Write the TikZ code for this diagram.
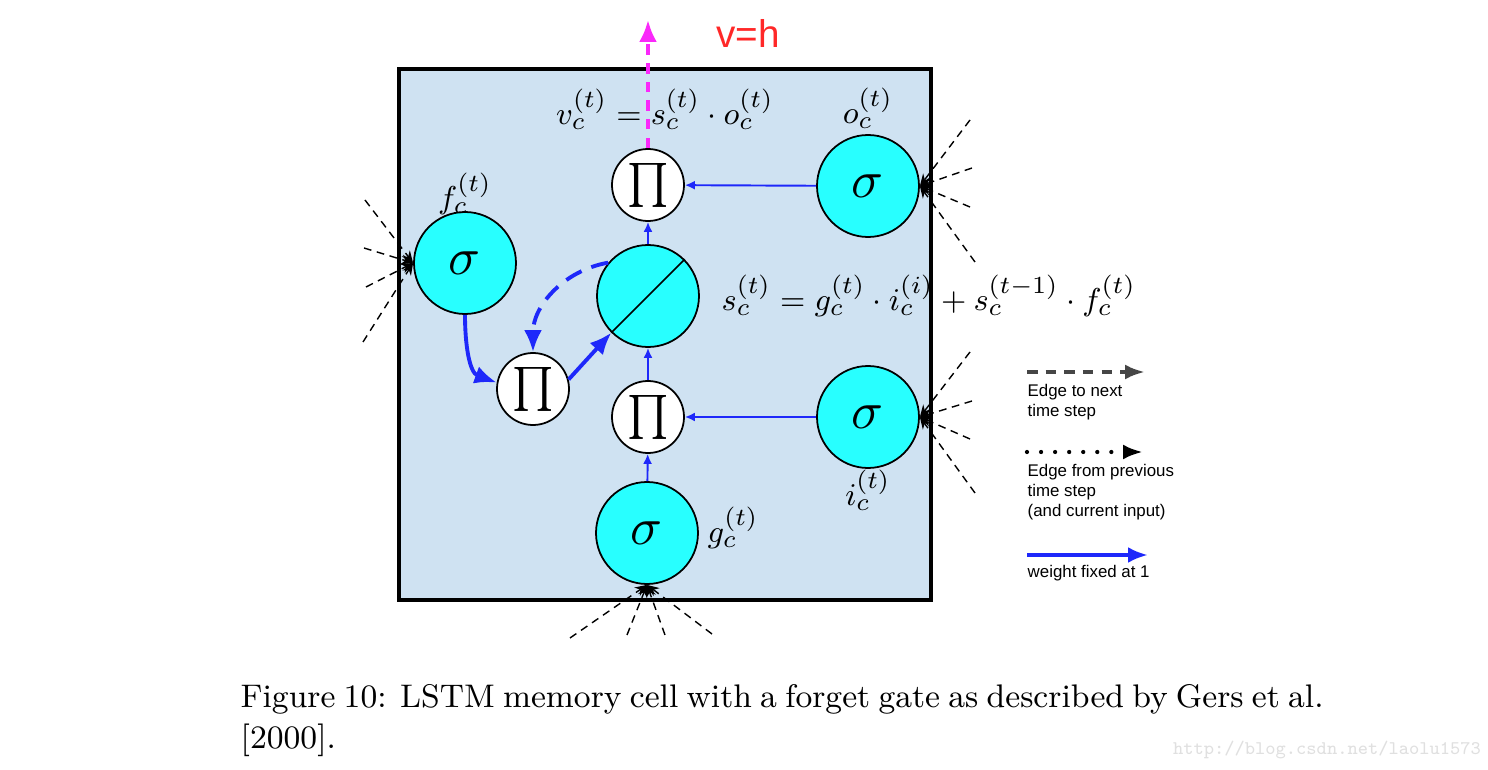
\documentclass[tikz,border=0pt]{standalone}
\usepackage{amsmath}
\usepackage{amssymb}
\usepackage{fontspec}
\setsansfont{Liberation Sans}
\usetikzlibrary{arrows.meta, positioning}
\newcommand*{\Sym}[2][1.5]{\scalebox{#1}{$#2$}}
\definecolor{cellblue}{RGB}{207,226,242}
\definecolor{gatecyan}{RGB}{40,255,255}
\definecolor{wblue}{RGB}{30,40,250}
\definecolor{vmagenta}{RGB}{250,40,250}
\definecolor{vred}{RGB}{255,40,40}
\definecolor{legendgray}{RGB}{70,70,70}
\tikzset{
  gate/.style={circle, draw, line width=0.5pt, fill=gatecyan, minimum size=1.02cm, inner sep=0pt},
  mult/.style={circle, draw, line width=0.5pt, fill=white, minimum size=0.72cm, inner sep=0pt},
  fan/.style={dash pattern=on 2.2pt off 1.6pt, line width=0.4pt, -{Stealth[length=1.2mm,width=1mm]}},
  wline/.style={wblue, line width=0.55pt, -{Latex[length=1mm,width=0.9mm]}},
  wthick/.style={wblue, line width=1.1pt, -{Latex[length=2.2mm,width=1.8mm]}},
  lbl/.style={font=\fontsize{9.5}{11}\selectfont, inner sep=0pt},
  legendtxt/.style={font=\sffamily\fontsize{4.8}{5.7}\selectfont, align=left, anchor=north west, inner sep=0pt},
}
\begin{document}
\begin{tikzpicture}
  \useasboundingbox (0,0) rectangle (14.88,7.70);
  \draw[line width=1pt, fill=cellblue] (3.99,1.70) rectangle (9.31,7.01);

  \node[mult] (outPi) at (6.48,5.85) {\Sym[1.25]{\prod}};
  \node[gate] (ogate) at (8.68,5.84) {\Sym{\sigma}};
  \node[gate] (fgate) at (4.65,5.07) {\Sym{\sigma}};
  \node[gate] (state) at (6.48,4.74) {};
  \draw[line width=0.5pt] (state.225) -- (state.45);
  \node[mult] (forget) at (5.33,3.81) {\Sym[1.25]{\prod}};
  \node[mult] (inPi) at (6.48,3.53) {\Sym[1.25]{\prod}};
  \node[gate] (igate) at (8.68,3.53) {\Sym{\sigma}};
  \node[gate] (ggate) at (6.47,2.37) {\Sym{\sigma}};

  \node[lbl] (flbl) at (4.65,5.76) {$f_c^{(t)}$};
  \node[lbl] (olbl) at (8.68,6.62) {$o_c^{(t)}$};
  \node[lbl] (ilbl) at (8.68,2.80) {$i_c^{(t)}$};
  \node[lbl, anchor=west] (glbl) at (7.07,2.42) {$g_c^{(t)}$};
  \node[lbl] (veq) at (6.65,6.61) {$v_c^{(t)} = s_c^{(t)} \cdot o_c^{(t)}$};
  \node[lbl, anchor=west] (seq) at (7.21,4.74) {$s_c^{(t)} = g_c^{(t)} \cdot i_c^{(i)} + s_c^{(t-1)} \cdot f_c^{(t)}$};

  \foreach \n/\x/\y in {1/3.65/5.70, 2/3.64/5.22, 3/3.66/4.83, 4/3.63/4.28}{
    \coordinate (fin\n) at (\x,\y);
    \draw[fan] (fin\n) -- (fgate.west);
  }
  \foreach \n/\x/\y in {1/9.70/6.50, 2/9.72/6.02, 3/9.70/5.63, 4/9.75/5.08}{
    \coordinate (oin\n) at (\x,\y);
    \draw[fan] (oin\n) -- (ogate.east);
  }
  \foreach \n/\x/\y in {1/9.70/4.18, 2/9.72/3.69, 3/9.70/3.31, 4/9.75/2.77}{
    \coordinate (iin\n) at (\x,\y);
    \draw[fan] (iin\n) -- (igate.east);
  }
  \foreach \n/\x/\y in {1/5.70/1.32, 2/6.27/1.35, 3/6.65/1.35, 4/7.12/1.36}{
    \coordinate (gin\n) at (\x,\y);
    \draw[fan] (gin\n) -- (ggate.south);
  }

  \draw[wline] (ggate) -- (inPi);
  \draw[wline] (inPi) -- (state);
  \draw[wline] (state) -- (outPi);
  \draw[wline] (igate) -- (inPi);
  \draw[wline] (ogate) -- (outPi);
  \draw[wthick] (fgate.south) to[out=-90, in=160] (forget.170);
  \draw[wthick] (forget.15) -- (state.225);
  \draw[wthick, dash pattern=on 5pt off 3pt] (state.140) to[out=190, in=90] (forget.north);

  \coordinate (vtip) at (6.48,7.50);
  \draw[vmagenta, line width=1.1pt, dash pattern=on 3pt off 2.3pt, -{Latex[length=2.2mm,width=1.8mm]}] (outPi.north) -- (vtip);
  \node[text=vred, font=\sffamily\fontsize{11}{13}\selectfont] (vh) at (7.48,7.37) {v=h};

  \coordinate (d1) at (10.27,3.98);
  \coordinate (d2) at (11.45,3.98);
  \draw[legendgray, line width=1.1pt, dash pattern=on 3pt off 2.3pt, -{Latex[length=2mm,width=1.5mm]}] (d1) -- (d2);
  \node[legendtxt] (dtxt) at (10.27,3.86) {Edge to next\\time step};
  \coordinate (p1) at (10.27,3.18);
  \coordinate (p2) at (11.43,3.18);
  \draw[line width=1.2pt, line cap=round, dash pattern=on 0pt off 4pt, -{Latex[length=2mm,width=1.5mm]}] (p1) -- (p2);
  \node[legendtxt] (ptxt) at (10.27,3.06) {Edge from previous\\time step\\(and current input)};
  \coordinate (w1) at (10.27,2.15);
  \coordinate (w2) at (11.48,2.15);
  \draw[wthick, -{Latex[length=2mm,width=1.6mm]}] (w1) -- (w2);
  \node[legendtxt] (wtxt) at (10.27,2.05) {weight fixed at 1};

  \node[anchor=base west, inner sep=0pt, align=left, font=\fontsize{9.3}{11.9}\selectfont] (caption) at (2.40,0.21)
    {\makebox[10.83cm][s]{Figure 10: LSTM memory cell with a forget gate as described by Gers et al.}\\\mbox{[2000].}};
  \node[font=\ttfamily\fontsize{5.5}{6}\selectfont, text=black!12] (mark) at (13.27,0.20) {http://blog.csdn.net/laolu1573};
\end{tikzpicture}
\end{document}
